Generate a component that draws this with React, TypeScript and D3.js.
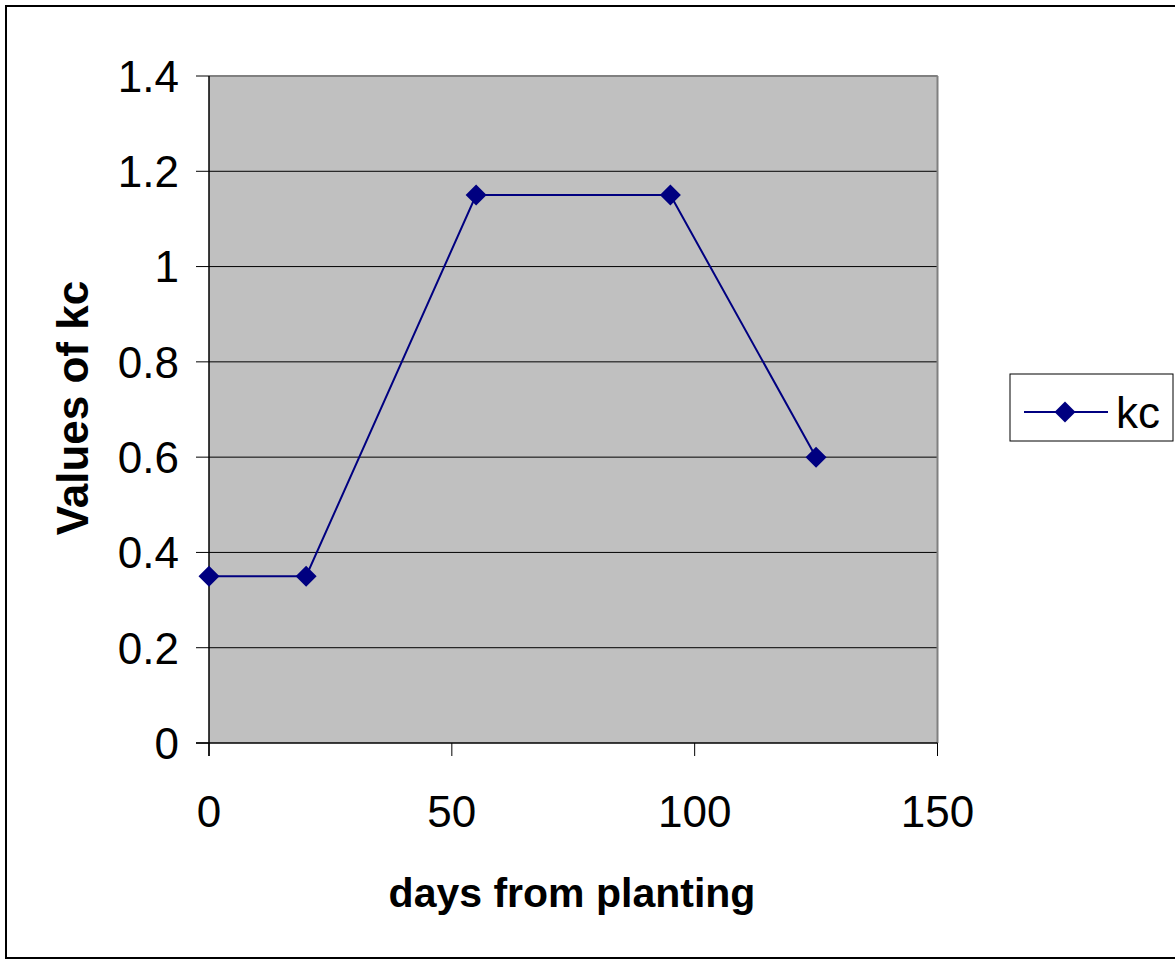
import React from "react";
import * as d3 from "d3";

const days = [0, 20, 55, 95, 125];
const kc = [0.35, 0.35, 1.15, 1.15, 0.6];
const xTicks = [0, 50, 100, 150];
const yTicks = [0, 0.2, 0.4, 0.6, 0.8, 1, 1.2, 1.4];
const seriesName = "kc";
const xTitle = "days from planting";
const yTitle = "Values of kc";

const W = 1175;
const H = 962;
const L = 209, R = 937.5, T = 76, B = 743;

export default function App() {
  const x = d3.scaleLinear().domain([0, 150]).range([L, R]);
  const y = d3.scaleLinear().domain([0, 1.4]).range([B, T]);
  const pts = days.map((d, i) => [x(d), y(kc[i])] as [number, number]);
  const line = d3.line()(pts) || "";
  const diamond = (cx: number, cy: number, r: number) =>
    `M${cx},${cy - r}L${cx + r},${cy}L${cx},${cy + r}L${cx - r},${cy}Z`;
  const font = "'Liberation Sans', Arial, sans-serif";
  return (
    <svg width={W} height={H} style={{ position: "absolute", left: 0, top: 0 }} fontFamily={font}>
      <rect x={0} y={0} width={W} height={H} fill="#fff" />
      <rect x={6} y={6} width={W - 5} height={H - 10} fill="none" stroke="#000" strokeWidth={2} />
      <rect x={L} y={T} width={R - L} height={B - T} fill="#C0C0C0" />
      {yTicks.filter(t => t > 0).map(t => (
        <line key={t} x1={L} x2={R} y1={y(t)} y2={y(t)} stroke="#000" strokeWidth={1} />
      ))}
      <line x1={L} x2={R} y1={T} y2={T} stroke="#808080" strokeWidth={2} />
      <line x1={R} x2={R} y1={T} y2={B} stroke="#808080" strokeWidth={2} />
      <line x1={L} x2={L} y1={T} y2={B + 13} stroke="#000" strokeWidth={1.5} />
      <line x1={L - 13} x2={R} y1={B} y2={B} stroke="#000" strokeWidth={1.5} />
      {yTicks.map(t => (
        <g key={t}>
          <line x1={L - 13} x2={L} y1={y(t)} y2={y(t)} stroke="#000" strokeWidth={1} />
          <text x={L - 30} y={y(t)} dy="0.36em" textAnchor="end" fontSize={44}>{String(t)}</text>
        </g>
      ))}
      {xTicks.map(t => (
        <g key={t}>
          <line x1={x(t)} x2={x(t)} y1={B} y2={B + 13} stroke="#000" strokeWidth={1} />
          <text x={x(t)} y={811} dy="0.36em" textAnchor="middle" fontSize={44}>{String(t)}</text>
        </g>
      ))}
      <path d={line} fill="none" stroke="#000080" strokeWidth={2} />
      {pts.map((p, i) => (
        <path key={i} d={diamond(p[0], p[1], 10.5)} fill="#000080" />
      ))}
      <text x={572} y={892} dy="0.36em" textAnchor="middle" fontSize={41} fontWeight="bold">{xTitle}</text>
      <text transform={`translate(72,408) rotate(-90)`} dy="0.36em" textAnchor="middle" fontSize={44} fontWeight="bold">{yTitle}</text>
      <rect x={1010} y={374} width={163} height={67} fill="#fff" stroke="#000" strokeWidth={1} />
      <line x1={1024} x2={1108} y1={412} y2={412} stroke="#000080" strokeWidth={2} />
      <path d={diamond(1065, 412, 10.5)} fill="#000080" />
      <text x={1116} y={412} dy="0.36em" fontSize={44}>{seriesName}</text>
    </svg>
  );
}
